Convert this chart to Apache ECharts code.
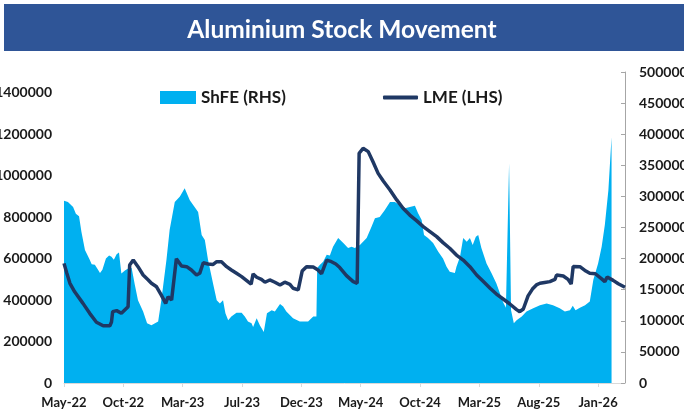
<!DOCTYPE html>
<html>
<head>
<meta charset="utf-8">
<script src="https://cdn.jsdelivr.net/npm/echarts@6/dist/echarts.min.js"></script>
<style>
  html, body { margin: 0; padding: 0; background: #fff; }
  #chart { width: 684px; height: 415px; }
</style>
</head>
<body>
<div id="chart"></div>
<script>
// x positions are days counted from 6 May 2022, ticks every 150 days
var tickLabels = ["May-22", "Oct-22", "Mar-23", "Jul-23", "Dec-23", "May-24", "Oct-24", "Mar-25", "Aug-25", "Jan-26"];

// ShFE stock (right axis)
var shfeDay = [0, 10, 23, 30, 38, 44, 53, 65, 70, 78, 86, 91, 97, 106, 114, 120, 126, 133, 139, 145,
  154, 162, 171, 179, 187, 200, 210, 221, 238, 246, 259, 267, 280, 293, 305, 310, 318, 331, 339, 348,
  356, 364, 377, 386, 394, 402, 408, 415, 423, 436, 449, 457, 465, 474, 478, 487, 495, 505, 513, 525,
  533, 546, 554, 562, 579, 596, 617, 630, 638, 640, 647, 655, 664, 672, 680, 693, 706, 718, 727, 735,
  748, 765, 777, 786, 798, 811, 824, 836, 849, 862, 874, 887, 895, 904, 910, 920, 933, 946, 958, 967,
  975, 988, 992, 1001, 1009, 1018, 1026, 1033, 1041, 1047, 1055, 1068, 1081, 1093, 1102, 1110, 1117, 1125, 1130, 1137,
  1144, 1157, 1169, 1186, 1203, 1220, 1236, 1253, 1266, 1279, 1286, 1293, 1304, 1317, 1329, 1338, 1350, 1359, 1367, 1376,
  1384];
var shfeStock = [293000, 291000, 283000, 272000, 268000, 243000, 214000, 198000, 191000, 190000, 182000, 177000, 182000, 200000, 205000, 203000, 198000, 207000, 210000, 176000,
  181000, 184000, 185000, 158000, 133000, 115000, 96000, 93000, 99000, 133000, 198000, 246000, 291000, 300000, 313000, 313000, 294000, 282000, 275000, 238000,
  230000, 198000, 159000, 133000, 128000, 133000, 112000, 101000, 107000, 113000, 113000, 107000, 99000, 96000, 90000, 104000, 93000, 82000, 112000, 117000,
  115000, 127000, 123000, 115000, 104000, 99000, 99000, 107000, 107000, 185000, 190000, 195000, 206000, 205000, 219000, 233000, 225000, 217000, 219000, 217000,
  222000, 233000, 251000, 265000, 267000, 278000, 291000, 291000, 286000, 281000, 283000, 285000, 273000, 262000, 238000, 233000, 225000, 211000, 200000, 187000,
  179000, 177000, 187000, 203000, 233000, 227000, 233000, 222000, 235000, 238000, 217000, 192000, 176000, 160000, 144000, 130000, 121000, 353000, 117000, 96000,
  101000, 107000, 115000, 120000, 125000, 128000, 125000, 120000, 115000, 117000, 124000, 117000, 121000, 125000, 131000, 166000, 192000, 219000, 254000, 310000,
  395000];

// LME stock (left axis)
var lmeDay = [0, 7, 15, 27, 48, 65, 82, 99, 116, 120, 123, 133, 145, 162, 166, 175, 187, 200, 213, 221,
  234, 246, 257, 263, 272, 284, 297, 310, 322, 335, 343, 352, 364, 377, 386, 398, 411, 423, 436, 449,
  465, 473, 478, 487, 499, 508, 520, 533, 546, 558, 571, 579, 592, 602, 613, 630, 642, 651, 664, 676,
  687, 697, 714, 731, 741, 746, 756, 769, 781, 794, 807, 824, 841, 857, 874, 891, 908, 925, 942, 958,
  975, 992, 1009, 1026, 1043, 1060, 1077, 1093, 1110, 1127, 1144, 1152, 1161, 1173, 1184, 1194, 1203, 1215, 1228, 1241,
  1245, 1262, 1274, 1282, 1287, 1304, 1319, 1329, 1343, 1359, 1367, 1373, 1388, 1401, 1418];
var lmeStock = [577000, 531000, 481000, 440000, 384000, 336000, 293000, 276000, 276000, 294000, 344000, 349000, 336000, 368000, 569000, 593000, 561000, 521000, 497000, 481000,
  464000, 424000, 384000, 416000, 400000, 599000, 564000, 561000, 545000, 521000, 529000, 580000, 574000, 572000, 585000, 585000, 561000, 545000, 529000, 513000,
  489000, 477000, 526000, 510000, 500000, 486000, 497000, 486000, 473000, 486000, 476000, 457000, 449000, 540000, 561000, 559000, 545000, 527000, 593000, 585000,
  574000, 557000, 518000, 489000, 481000, 1108000, 1132000, 1116000, 1067000, 1011000, 974000, 931000, 883000, 843000, 810000, 783000, 754000, 730000, 706000, 677000,
  650000, 617000, 593000, 561000, 521000, 489000, 457000, 429000, 405000, 381000, 354000, 344000, 357000, 420000, 453000, 473000, 481000, 485000, 489000, 500000,
  521000, 516000, 500000, 477000, 562000, 561000, 540000, 529000, 527000, 502000, 489000, 511000, 495000, 479000, 462000];

var shfeData = shfeDay.map(function (d, i) { return [d, shfeStock[i]]; });
var lmeData = lmeDay.map(function (d, i) { return [d, lmeStock[i]]; });

var FONT = "Lato";
var labelStyle = { color: "#1a1a1a", fontFamily: FONT, fontWeight: "bold", fontSize: 14 };
var legendText = { color: "#1a1a1a", fontFamily: FONT, fontWeight: "bold", fontSize: 17 };

var myChart = echarts.init(document.getElementById("chart"));
var option = {
  animation: false,
  graphic: [
    {
      type: "rect",
      shape: { x: 4, y: 4, width: 680, height: 47 },
      style: { fill: "#2F5597" },
      z: 0,
    },
  ],
  title: {
    text: "Aluminium Stock Movement",
    left: "center",
    top: 13,
    textStyle: { color: "#fff", fontFamily: FONT, fontWeight: "bold", fontSize: 24.5 },
  },
  legend: [
    {
      data: [{ name: "ShFE (RHS)", icon: "rect" }],
      left: 155,
      top: 84,
      itemWidth: 36,
      itemHeight: 13,
      textStyle: legendText,
    },
    {
      data: [{ name: "LME (LHS)", icon: "roundRect" }],
      left: 378,
      top: 84,
      itemWidth: 35,
      itemHeight: 4,
      textStyle: legendText,
    },
  ],
  grid: { left: 64, right: 59, top: 72, bottom: 32, outerBoundsMode: "none", containLabel: false },
  xAxis: {
    type: "value",
    min: 0,
    max: 1418,
    interval: 150,
    axisLine: { show: true, lineStyle: { color: "#D9D9D9", width: 1 } },
    axisTick: { show: true, length: 4, lineStyle: { color: "#D9D9D9" } },
    splitLine: { show: false },
    axisLabel: Object.assign({}, labelStyle, {
      fontSize: 13,
      margin: 13,
      showMaxLabel: false,
      formatter: function (v) {
        return v % 150 === 0 ? tickLabels[v / 150] || "" : "";
      },
    }),
  },
  yAxis: [
    {
      type: "value",
      min: 0,
      max: 1500000,
      interval: 200000,
      axisLine: { show: false },
      axisTick: { show: false },
      splitLine: { show: false },
      axisLabel: Object.assign({}, labelStyle, {
        margin: 12,
        showMaxLabel: false,
        formatter: function (v) { return String(v); },
      }),
    },
    {
      type: "value",
      min: 0,
      max: 500000,
      interval: 50000,
      position: "right",
      axisLine: { show: true, lineStyle: { color: "#A6A6A6", width: 1 } },
      axisTick: { show: true, inside: true, length: 4, lineStyle: { color: "#A6A6A6" } },
      splitLine: { show: false },
      axisLabel: Object.assign({}, labelStyle, {
        margin: 14,
        formatter: function (v) { return String(v); },
      }),
    },
  ],
  series: [
    {
      name: "ShFE (RHS)",
      type: "line",
      yAxisIndex: 1,
      data: shfeData,
      symbol: "none",
      color: "#00B0F0",
      lineStyle: { width: 0 },
      areaStyle: { color: "#00B0F0", opacity: 1 },
      z: 2,
    },
    {
      name: "LME (LHS)",
      type: "line",
      yAxisIndex: 0,
      data: lmeData,
      symbol: "none",
      color: "#1F3864",
      lineStyle: { width: 3.5, color: "#1F3864" },
      z: 3,
    },
  ],
};
myChart.setOption(option);
</script>
</body>
</html>
